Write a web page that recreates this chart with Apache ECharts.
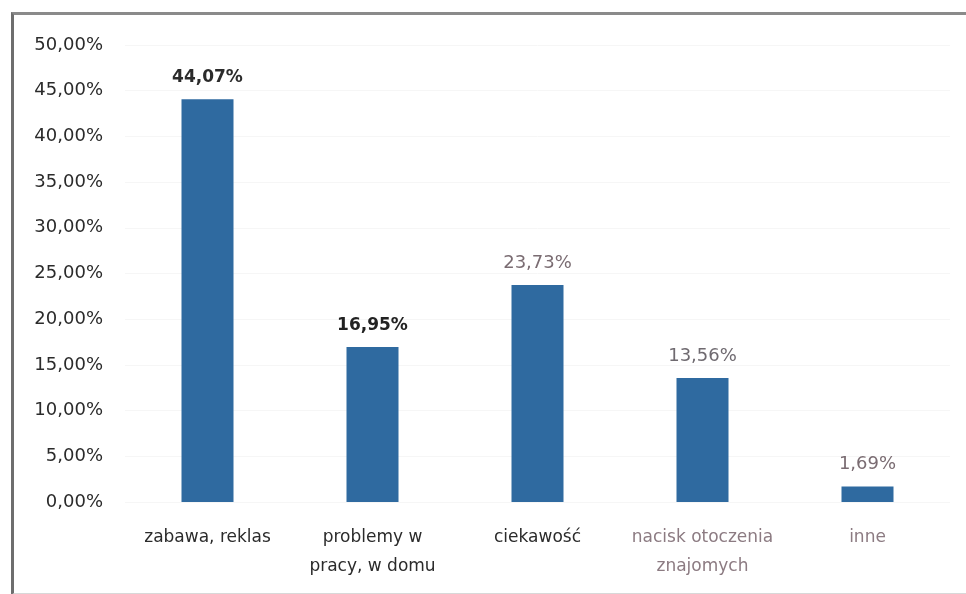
<!DOCTYPE html>
<html><head><meta charset="utf-8">
<script src="https://cdn.jsdelivr.net/npm/echarts@6/dist/echarts.min.js"></script>
<style>
html,body{margin:0;padding:0;background:#fff;}
#c{width:966px;height:594px;position:absolute;left:0;top:0;}
#frame{position:absolute;left:11px;top:12px;width:970px;height:578px;border-left:3px solid #6e6e6e;border-top:3px solid #8a8a8a;border-bottom:2px solid #d8d8d8;pointer-events:none;}
</style></head>
<body>
<div id="c"></div>
<div id="frame"></div>
<script>
const categories = ['zabawa, reklas', 'problemy w\npracy, w domu', 'ciekawość', 'nacisk otoczenia\nznajomych', 'inne'];
const values = [44.07, 16.95, 23.73, 13.56, 1.69];
const yTicks = {min: 0, max: 50, interval: 5};
const labelColors = ['#2b2b2b', '#222222', '#7a6c72', '#6f6a70', '#7a6c72'];
const labelWeights = ['bold', 'bold', 'normal', 'normal', 'normal'];
const catColors = ['#2b2b2b', '#2b2b2b', '#2b2b2b', '#8c7b82', '#8c7b82'];

const FONT = '"DejaVu Sans", sans-serif';
const fmt = v => v.toFixed(2).replace('.', ',') + '%';
const chart = echarts.init(document.getElementById('c'));
chart.setOption({
  animation: false,
  grid: {left: 125, right: 16, top: 45, bottom: 92},
  xAxis: {
    type: 'category',
    data: categories,
    axisLine: {show: false},
    axisTick: {show: false},
    axisLabel: {
      interval: 0,
      hideOverlap: false,
      margin: 21,
      fontFamily: FONT,
      fontSize: 17,
      lineHeight: 29,
      color: function (v, i) { return catColors[i]; }
    }
  },
  yAxis: {
    type: 'value',
    min: yTicks.min, max: yTicks.max, interval: yTicks.interval,
    axisLine: {show: false},
    axisTick: {show: false},
    splitLine: {lineStyle: {color: '#f6f6f6', width: 1}},
    axisLabel: {
      margin: 22,
      fontFamily: FONT,
      fontSize: 18,
      color: '#2b2b2b',
      formatter: v => fmt(v)
    }
  },
  series: [{
    type: 'bar',
    barWidth: 52,
    data: values.map((v, i) => ({
      value: v,
      label: {color: labelColors[i], fontWeight: labelWeights[i], fontSize: labelWeights[i] === 'bold' ? 17 : 18}
    })),
    itemStyle: {color: '#2f6aa0'},
    label: {
      show: true,
      position: 'top',
      distance: 13,
      fontFamily: FONT,
      fontSize: 18,
      formatter: p => fmt(p.value)
    }
  }]
});
</script>
</body></html>
